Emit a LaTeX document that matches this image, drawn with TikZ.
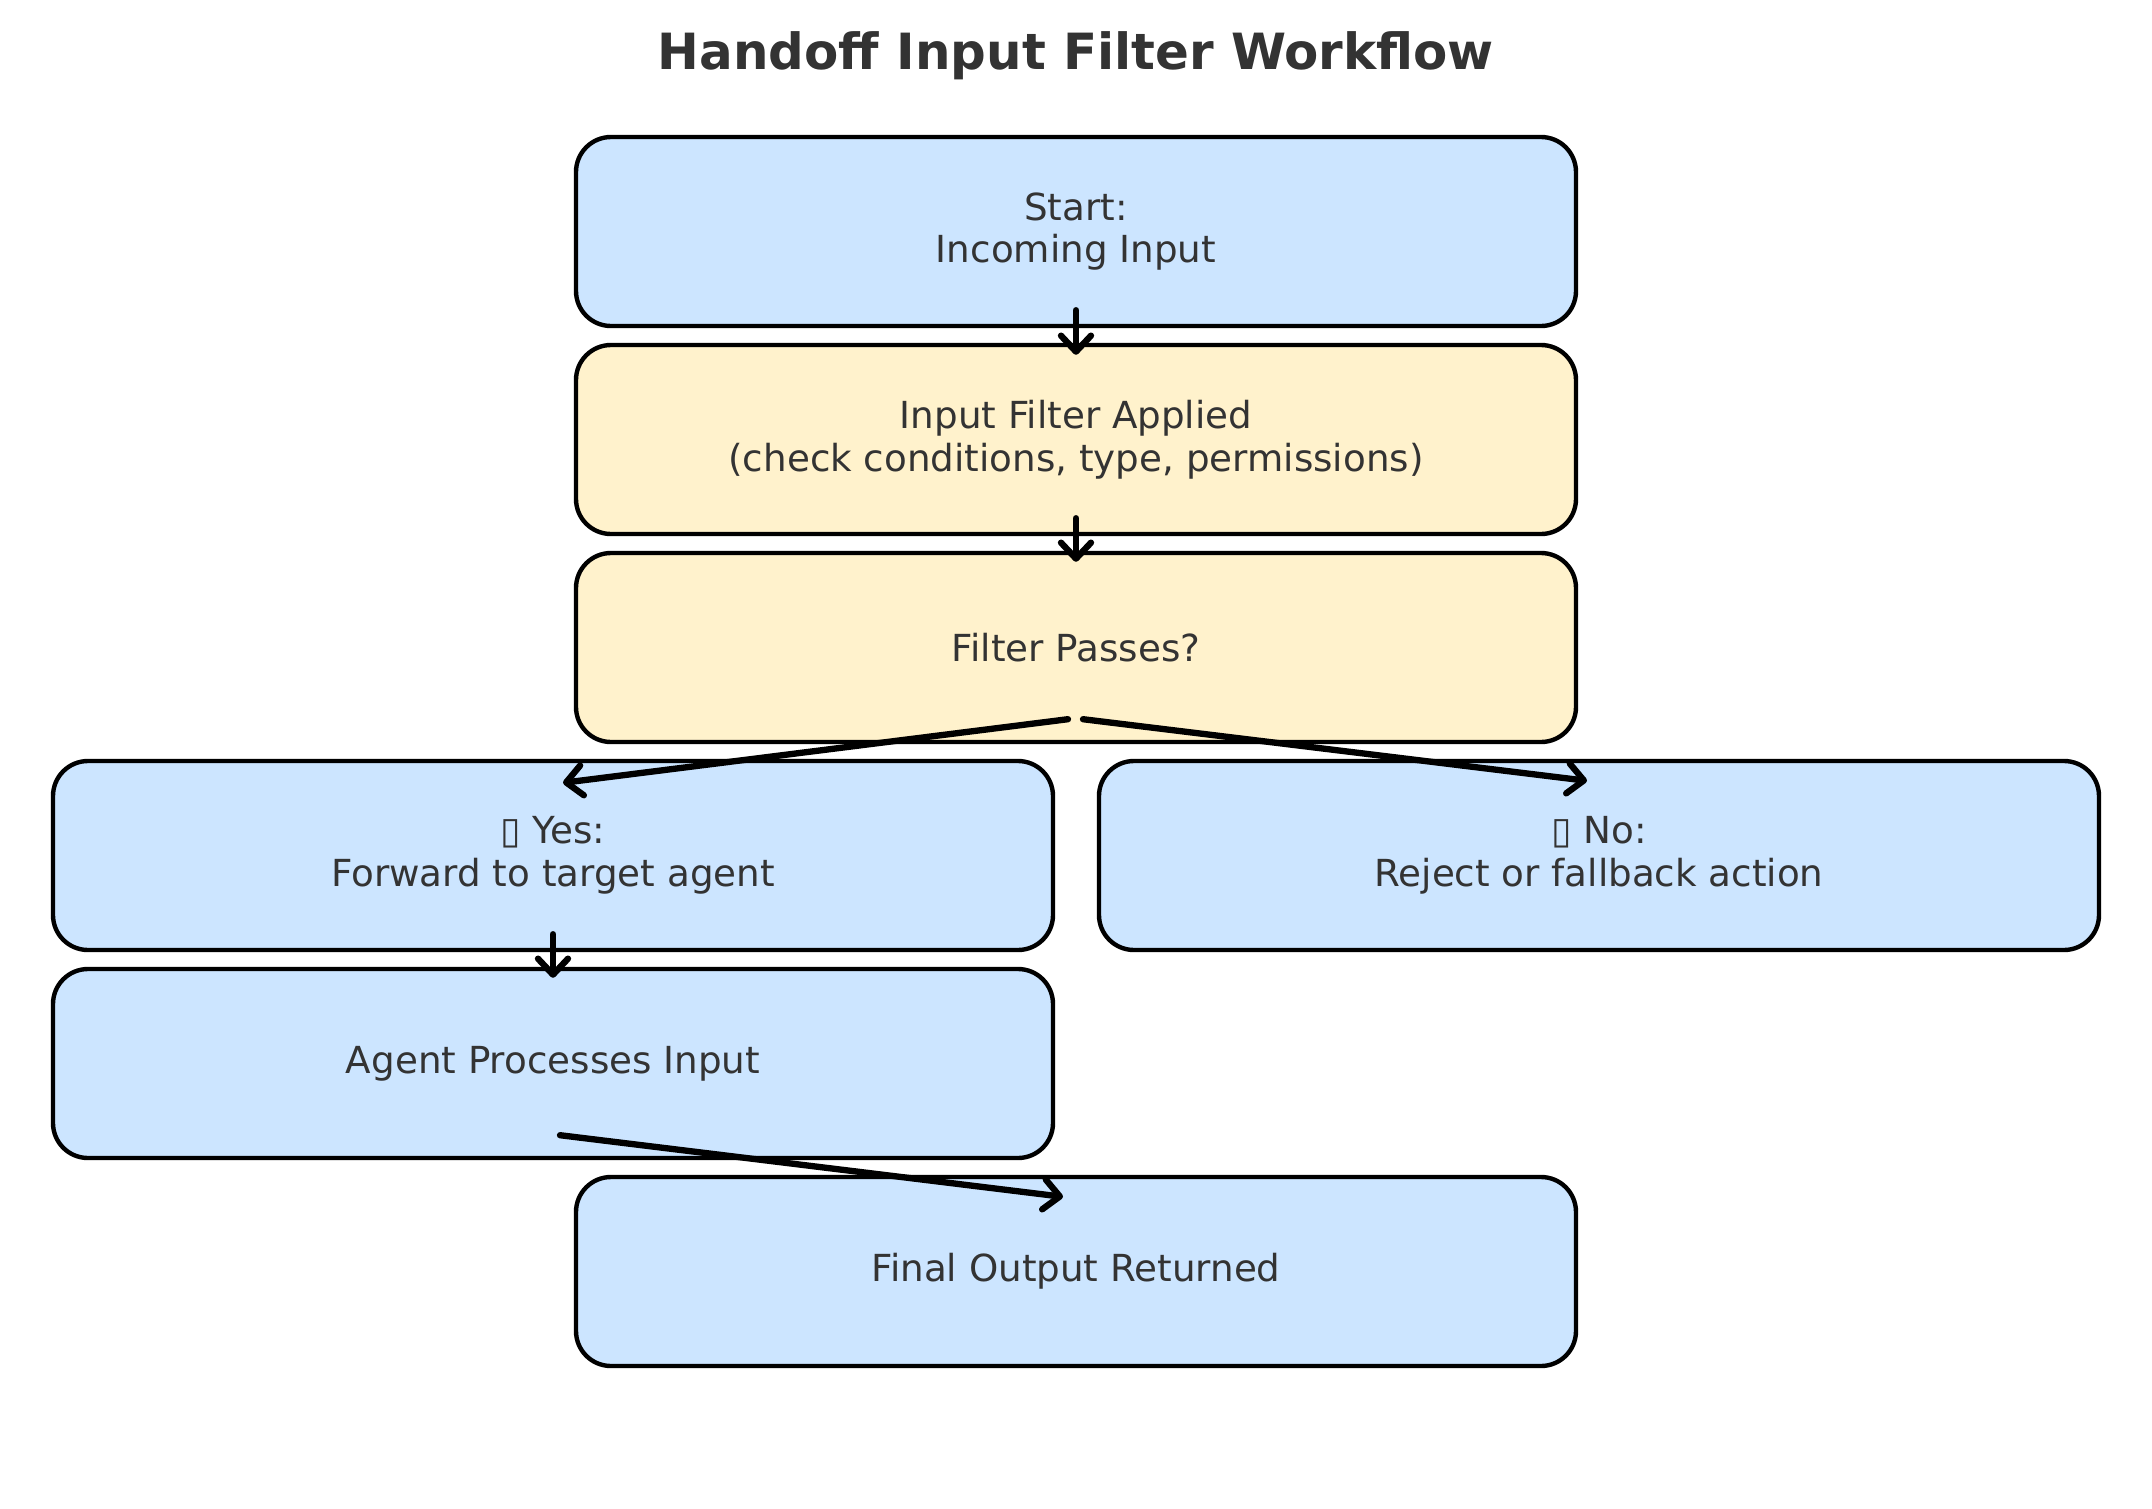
\documentclass[tikz,border=0pt]{standalone}
\usepackage{fontspec}
\setmainfont{DejaVu Sans}
\usetikzlibrary{arrows.meta, positioning}
\definecolor{hfBlue}{HTML}{CCE5FF}
\definecolor{hfYellow}{HTML}{FFF2CC}
\definecolor{hfText}{HTML}{333333}
\tikzset{
  procbox/.style   = {draw=black, line width=1.25pt, rounded corners=0.35cm,
                      minimum width=10cm, minimum height=1.89cm, inner sep=0pt,
                      align=center, text=hfText,
                      font=\fontsize{10.6pt}{12.1pt}\selectfont},
  bluebox/.style   = {procbox, fill=hfBlue},
  yellowbox/.style = {procbox, fill=hfYellow},
  flowarrow/.style = {-{Straight Barb[round, length=1.6mm, width=3mm]},
                      line width=1.8pt, line cap=round, black},
  titlelbl/.style  = {font=\fontsize{14.2pt}{17pt}\selectfont\bfseries, text=hfText},
}

\begin{document}
\begin{tikzpicture}
\useasboundingbox (0,0) rectangle (21.52,-15.09);

% ---- title ---------------------------------------------------------------
\node[titlelbl] (title) at (10.76,-0.56) {Handoff Input Filter Workflow};

% ---- boxes ---------------------------------------------------------------
\node[bluebox]   (start)  at (10.76,-2.315)  {Start:\\Incoming Input};
\node[yellowbox] (filter) at (10.76,-4.395)  {Input Filter Applied\\(check conditions, type, permissions)};
\node[yellowbox] (passes) at (10.76,-6.475)  {Filter Passes?};
\node[bluebox]   (yes)    at (5.53,-8.555)   {▯ Yes:\\Forward to target agent};
\node[bluebox]   (no)     at (15.99,-8.555)  {▯ No:\\Reject or fallback action};
\node[bluebox]   (agent)  at (5.53,-10.635)  {Agent Processes Input};
\node[bluebox]   (final)  at (10.76,-12.715) {Final Output Returned};

% ---- connectors ----------------------------------------------------------
\draw[flowarrow] ([yshift=0.18cm]start.south)  -- ([yshift=-0.12cm]filter.north);
\draw[flowarrow] ([yshift=0.18cm]filter.south) -- ([yshift=-0.11cm]passes.north);
\draw[flowarrow] ([xshift=-0.08cm,yshift=0.25cm]passes.south) -- ([xshift=0.10cm,yshift=-0.24cm]yes.north);
\draw[flowarrow] ([xshift=0.07cm,yshift=0.25cm]passes.south)  -- ([xshift=-0.12cm,yshift=-0.22cm]no.north);
\draw[flowarrow] ([yshift=0.18cm]yes.south)    -- ([yshift=-0.11cm]agent.north);
\draw[flowarrow] ([xshift=0.07cm,yshift=0.25cm]agent.south)   -- ([xshift=-0.13cm,yshift=-0.22cm]final.north);

\end{tikzpicture}
\end{document}
